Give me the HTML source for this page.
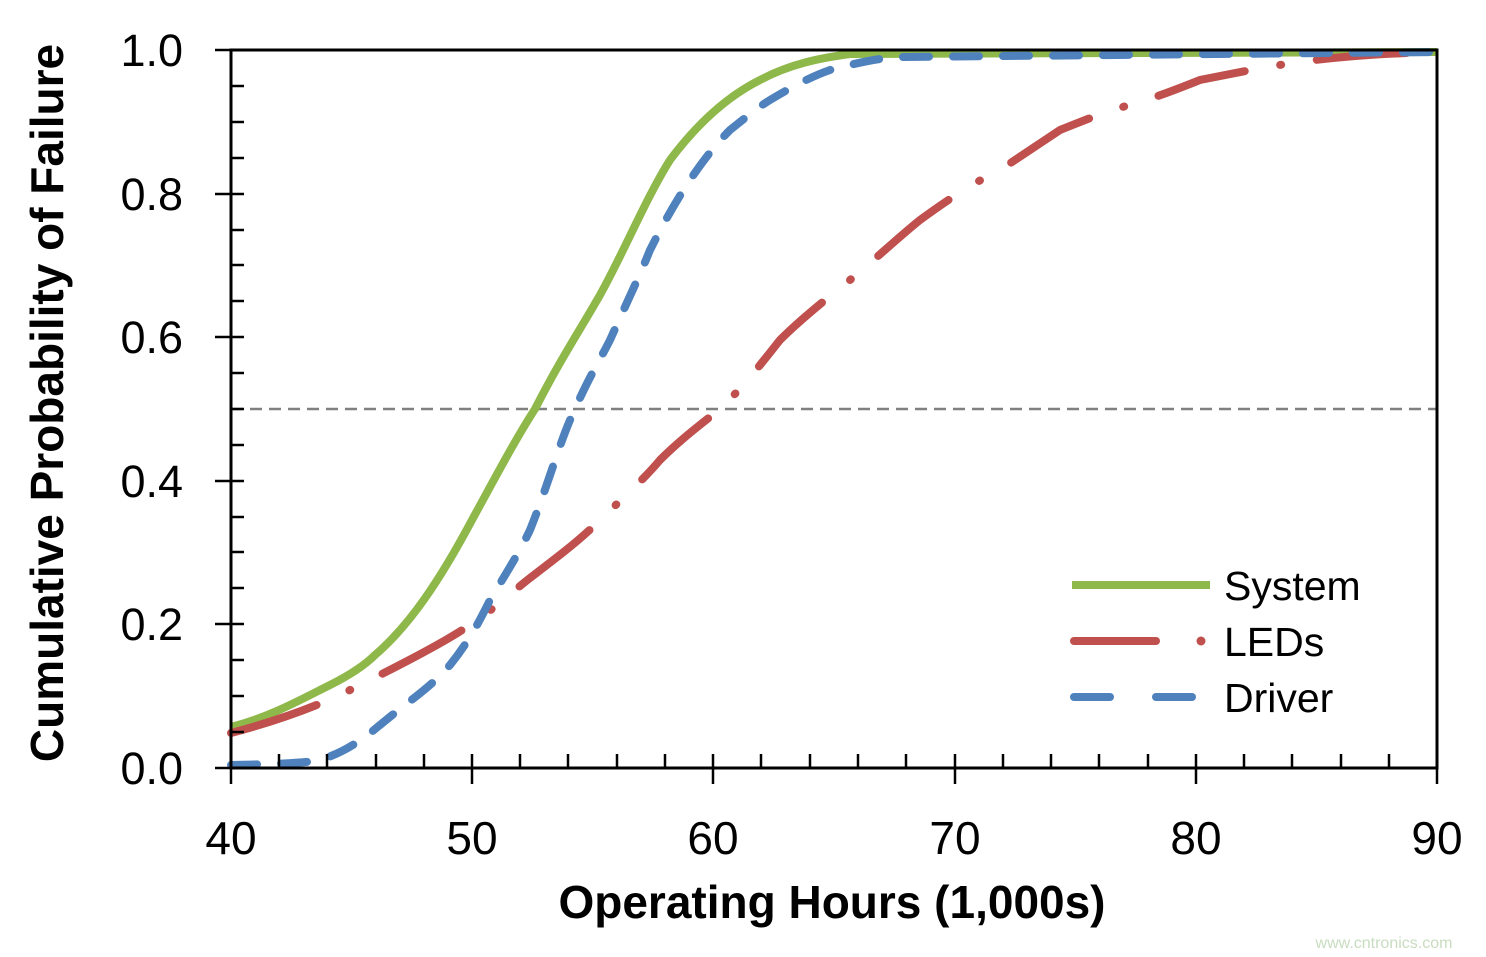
<!DOCTYPE html>
<html><head><meta charset="utf-8"><style>
html,body{margin:0;padding:0;background:#fff}
svg{display:block}
text{font-family:"Liberation Sans",sans-serif}
</style></head><body>
<svg width="1486" height="957" viewBox="0 0 1486 957" xmlns="http://www.w3.org/2000/svg">
<rect width="1486" height="957" fill="#fff"/>
<line x1="231" y1="409" x2="1437" y2="409" stroke="#808080" stroke-width="2.5" stroke-dasharray="12,7"/>
<path d="M231,727 C270,717 300,700 330,685 C350,675 365,665 375,655 C410,625 440,580 472,520 C495,478 515,440 535,409 C560,360 580,330 600,295 C625,250 645,200 670,160 C700,120 730,95 760,80 C790,64 820,58 850,54 L1437,52" fill="none" stroke="#8fb84a" stroke-width="8"/>
<path d="M231,733 C280,720 320,705 350,690 C400,665 440,645 470,625 C495,608 512,592 530,578 C560,555 580,540 600,520 C625,496 645,478 660,460 C680,440 700,425 720,409 C745,385 760,365 780,340 C800,320 825,300 850,280 C880,255 900,236 920,220 C950,198 975,182 1000,170 C1030,150 1045,140 1060,130 C1090,118 1110,110 1130,105 C1160,96 1180,88 1200,80 C1240,72 1270,66 1300,62 C1350,55 1400,53 1437,52" fill="none" stroke="#c0504d" stroke-width="8" stroke-dasharray="90,36,1,36" stroke-linecap="round"/>
<path d="M231,765 C280,764 305,763 320,760 C345,752 362,740 380,725 C410,700 430,688 450,665 C470,640 480,620 490,600 C505,575 518,555 530,530 C550,480 560,440 575,409 C590,375 600,360 610,340 C628,300 640,275 650,250 C665,220 678,198 690,180 C705,158 717,143 730,130 C745,118 757,108 770,100 C790,88 810,77 830,70 C860,62 880,58 900,57 L1437,52" fill="none" stroke="#4f81bd" stroke-width="8" stroke-dasharray="26,24" stroke-linecap="round"/>
<rect x="231" y="50" width="1206" height="718" fill="none" stroke="#000" stroke-width="3"/>
<g stroke="#000" stroke-width="2.5">
<line x1="215" y1="50" x2="244" y2="50"/><line x1="231" y1="86" x2="244" y2="86"/><line x1="231" y1="122" x2="244" y2="122"/><line x1="231" y1="158" x2="244" y2="158"/>
<line x1="215" y1="194" x2="244" y2="194"/><line x1="231" y1="230" x2="244" y2="230"/><line x1="231" y1="265" x2="244" y2="265"/><line x1="231" y1="301" x2="244" y2="301"/>
<line x1="215" y1="337" x2="244" y2="337"/><line x1="231" y1="373" x2="244" y2="373"/><line x1="231" y1="409" x2="244" y2="409"/><line x1="231" y1="445" x2="244" y2="445"/>
<line x1="215" y1="481" x2="244" y2="481"/><line x1="231" y1="517" x2="244" y2="517"/><line x1="231" y1="552" x2="244" y2="552"/><line x1="231" y1="588" x2="244" y2="588"/>
<line x1="215" y1="624" x2="244" y2="624"/><line x1="231" y1="660" x2="244" y2="660"/><line x1="231" y1="696" x2="244" y2="696"/><line x1="231" y1="732" x2="244" y2="732"/>
<line x1="215" y1="768" x2="231" y2="768"/>
</g>
<g stroke="#000" stroke-width="2.5">
<line x1="231" y1="754" x2="231" y2="784"/><line x1="472" y1="754" x2="472" y2="784"/><line x1="713" y1="754" x2="713" y2="784"/><line x1="955" y1="754" x2="955" y2="784"/><line x1="1196" y1="754" x2="1196" y2="784"/><line x1="1437" y1="754" x2="1437" y2="784"/>
<line x1="279" y1="754" x2="279" y2="768"/><line x1="327" y1="754" x2="327" y2="768"/><line x1="376" y1="754" x2="376" y2="768"/><line x1="424" y1="754" x2="424" y2="768"/>
<line x1="520" y1="754" x2="520" y2="768"/><line x1="568" y1="754" x2="568" y2="768"/><line x1="617" y1="754" x2="617" y2="768"/><line x1="665" y1="754" x2="665" y2="768"/>
<line x1="761" y1="754" x2="761" y2="768"/><line x1="810" y1="754" x2="810" y2="768"/><line x1="858" y1="754" x2="858" y2="768"/><line x1="906" y1="754" x2="906" y2="768"/>
<line x1="1003" y1="754" x2="1003" y2="768"/><line x1="1051" y1="754" x2="1051" y2="768"/><line x1="1099" y1="754" x2="1099" y2="768"/><line x1="1148" y1="754" x2="1148" y2="768"/>
<line x1="1244" y1="754" x2="1244" y2="768"/><line x1="1292" y1="754" x2="1292" y2="768"/><line x1="1341" y1="754" x2="1341" y2="768"/><line x1="1389" y1="754" x2="1389" y2="768"/>
</g>
<g font-size="45" text-anchor="end" fill="#000">
<text x="183" y="66">1.0</text><text x="183" y="210">0.8</text><text x="183" y="353">0.6</text><text x="183" y="497">0.4</text><text x="183" y="640">0.2</text><text x="183" y="784">0.0</text>
</g>
<g font-size="46" text-anchor="middle" fill="#000">
<text x="231" y="854">40</text><text x="472" y="854">50</text><text x="713" y="854">60</text><text x="955" y="854">70</text><text x="1196" y="854">80</text><text x="1437" y="854">90</text>
</g>
<text x="832" y="918" font-size="46" font-weight="bold" text-anchor="middle">Operating Hours (1,000s)</text>
<text transform="translate(63,403) rotate(-90)" font-size="46" font-weight="bold" text-anchor="middle">Cumulative Probability of Failure</text>
<line x1="1072" y1="585" x2="1210" y2="585" stroke="#8fb84a" stroke-width="8"/>
<line x1="1074" y1="641" x2="1156" y2="641" stroke="#c0504d" stroke-width="8" stroke-linecap="round"/>
<circle cx="1201" cy="641" r="4.5" fill="#c0504d"/>
<line x1="1074" y1="697" x2="1110" y2="697" stroke="#4f81bd" stroke-width="8" stroke-linecap="round"/>
<line x1="1156" y1="697" x2="1192" y2="697" stroke="#4f81bd" stroke-width="8" stroke-linecap="round"/>
<g font-size="41" fill="#000">
<text x="1224" y="600">System</text><text x="1224" y="656">LEDs</text><text x="1224" y="712">Driver</text>
</g>
<text x="1384" y="948" font-size="16" fill="#c8dcc0" text-anchor="middle">www.cntronics.com</text>
</svg>
</body></html>
